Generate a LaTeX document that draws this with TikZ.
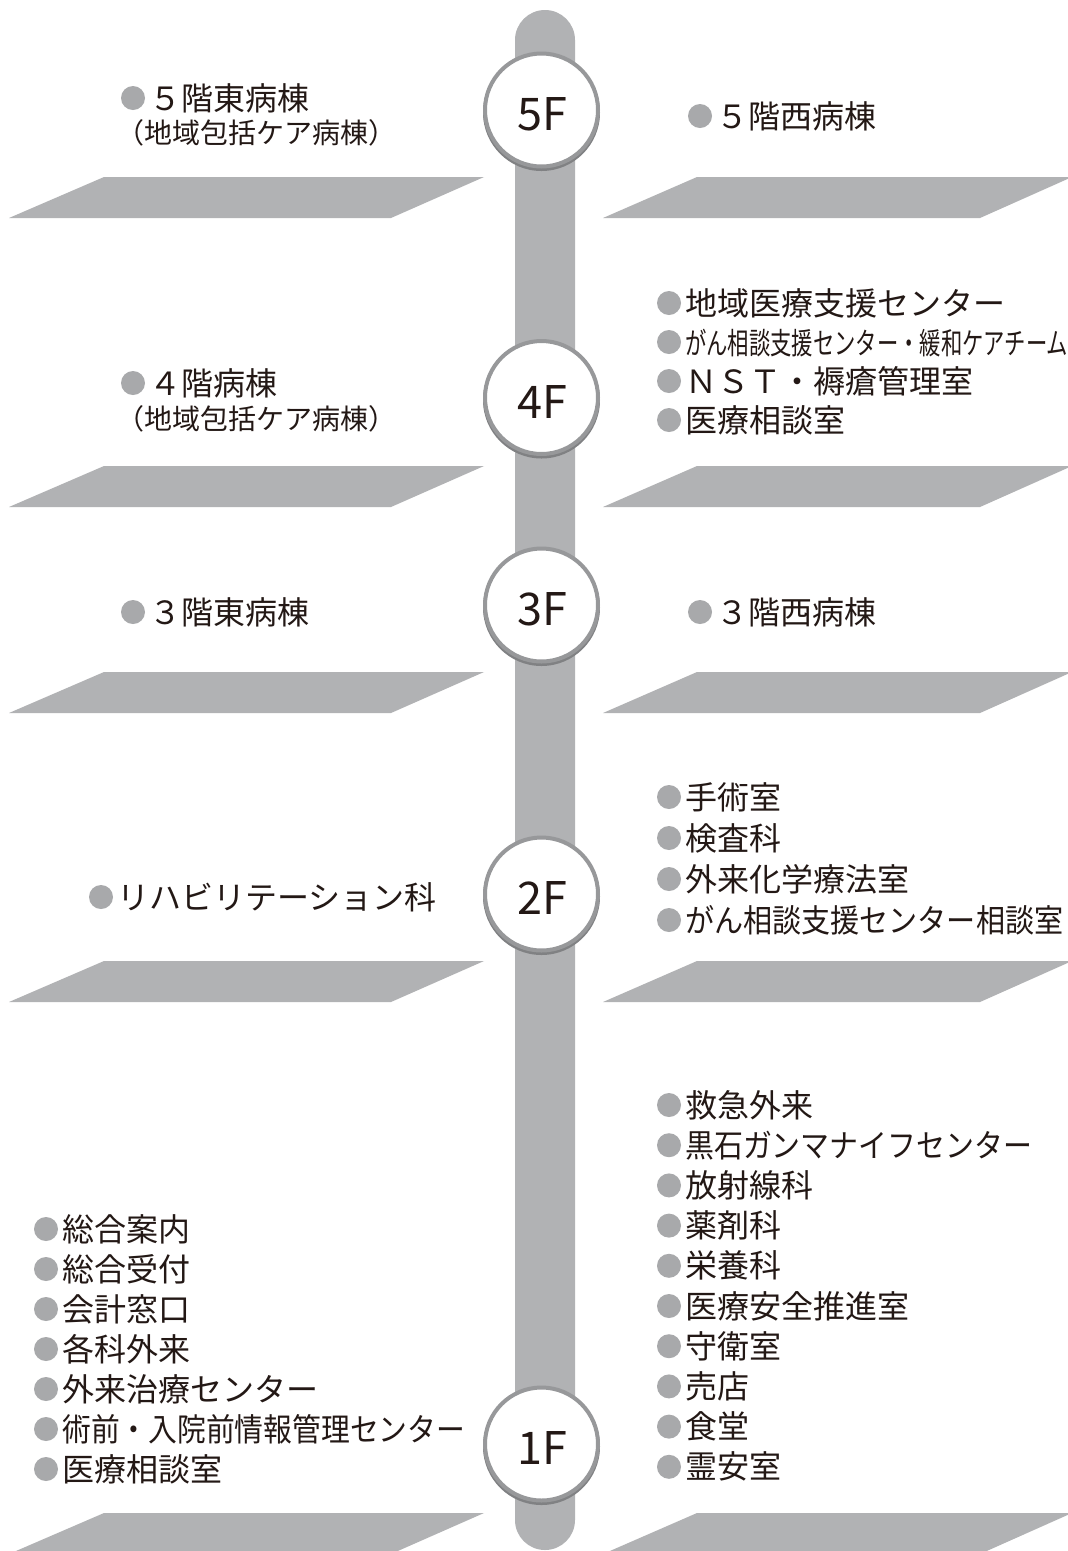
\documentclass[tikz,border=0pt]{standalone}
\usepackage{fontspec}
\usepackage{graphicx}
\setmainfont{Noto Sans CJK JP}
\definecolor{slabc}{HTML}{B1B2B4}
\definecolor{barc}{HTML}{B1B2B4}
\definecolor{ringc}{HTML}{97989A}
\definecolor{shadec}{HTML}{808183}
\definecolor{dotc}{HTML}{A8A9AB}
\definecolor{inkc}{HTML}{231815}
\tikzset{
  item/.style={anchor=base west, inner sep=0pt, text=inkc, font=\fontsize{32}{36}\selectfont},
  subitem/.style={anchor=base west, inner sep=0pt, text=inkc, font=\fontsize{28}{32}\selectfont},
  floorlabel/.style={inner sep=0pt, text=inkc, font=\fontsize{45}{50}\selectfont},
  floorring/.style={circle, draw=ringc, line width=4pt, fill=white, inner sep=0pt, minimum size=113pt},
  dotmark/.style={circle, fill=dotc, inner sep=0pt, minimum size=24pt},
  slab/.style={fill=slabc},
}
% #1 name, #2 bullet centre x, #3 row centre y, #4 text
\newcommand{\lineitem}[4]{%
  \node[dotmark] (#1dot) at (#2,#3) {};
  \node[item] (#1) at (#2+16,#3+12) {#4};}
% #1 name, #2 centre y
\newcommand{\floorcircle}[3]{%
  \fill[shadec] (541.5,#2+2.5) circle (58.5);
  \node[floorring] (c#1) at (541.5,#2) {};
  \node[floorlabel] (f#1) at (542,#2+4) {#3};}
% #1 top y
\newcommand{\slabpair}[1]{%
  \fill[slab] (104,#1) -- (484,#1) -- (391,#1+41) -- (9,#1+41) -- cycle;
  \fill[slab] (697,#1) -- (1072,#1) -- (980,#1+41) -- (603,#1+41) -- cycle;}
\begin{document}
\begin{tikzpicture}[x=1pt,y=-1pt]
\clip (0,0) rectangle (1068,1551);
\fill[white] (0,0) rectangle (1068,1551);
% central shaft
\fill[barc, rounded corners=30pt] (515,10) rectangle (575,1550);
% floor slabs
\slabpair{177}
\slabpair{466}
\slabpair{672}
\slabpair{961}
\slabpair{1513}
% floor circles
\floorcircle{5}{110}{5F}
\floorcircle{4}{397.5}{4F}
\floorcircle{3}{605}{3F}
\floorcircle{2}{894}{2F}
\floorcircle{1}{1444}{1F}
% 5F
\lineitem{l5a}{133}{98}{５階東病棟}
\node[subitem] (l5b) at (116.5,143.6) {（地域包括ケア病棟）};
\lineitem{r5a}{700}{116}{５階西病棟}
% 4F
\lineitem{l4a}{133}{383}{４階病棟}
\node[subitem] (l4b) at (116.5,429.6) {（地域包括ケア病棟）};
\lineitem{r4a}{669}{303}{地域医療支援センター}
\lineitem{r4b}{669}{342}{\scalebox{0.711}[1]{\fontsize{30}{34}\selectfont がん相談支援センター・緩和ケアチーム}}
\lineitem{r4c}{669}{381}{ＮＳＴ・褥瘡管理室}
\lineitem{r4d}{669}{420}{医療相談室}
% 3F
\lineitem{l3a}{133}{612}{３階東病棟}
\lineitem{r3a}{700}{612}{３階西病棟}
% 2F
\lineitem{l2a}{101}{897}{リハビリテーション科}
\lineitem{r2a}{669}{797}{手術室}
\lineitem{r2b}{669}{838}{検査科}
\lineitem{r2c}{669}{879}{外来化学療法室}
\lineitem{r2d}{669}{920}{\scalebox{0.909}[1]{がん相談支援センター相談室}}
% 1F left
\lineitem{l1a}{46}{1229}{総合案内}
\lineitem{l1b}{46}{1269}{総合受付}
\lineitem{l1c}{46}{1309}{会計窓口}
\lineitem{l1d}{46}{1349}{各科外来}
\lineitem{l1e}{46}{1389}{外来治療センター}
\lineitem{l1f}{46}{1429}{\scalebox{0.9}[1]{術前・入院前情報管理センター}}
\lineitem{l1g}{46}{1469}{医療相談室}
% 1F right
\lineitem{r1a}{669}{1105}{救急外来}
\lineitem{r1b}{669}{1145.2}{\scalebox{0.904}[1]{黒石ガンマナイフセンター}}
\lineitem{r1c}{669}{1185.4}{放射線科}
\lineitem{r1d}{669}{1225.6}{薬剤科}
\lineitem{r1e}{669}{1265.8}{栄養科}
\lineitem{r1f}{669}{1306}{医療安全推進室}
\lineitem{r1g}{669}{1346.2}{守衛室}
\lineitem{r1h}{669}{1386.4}{売店}
\lineitem{r1i}{669}{1426.6}{食堂}
\lineitem{r1j}{669}{1466.8}{霊安室}
\end{tikzpicture}
\end{document}
